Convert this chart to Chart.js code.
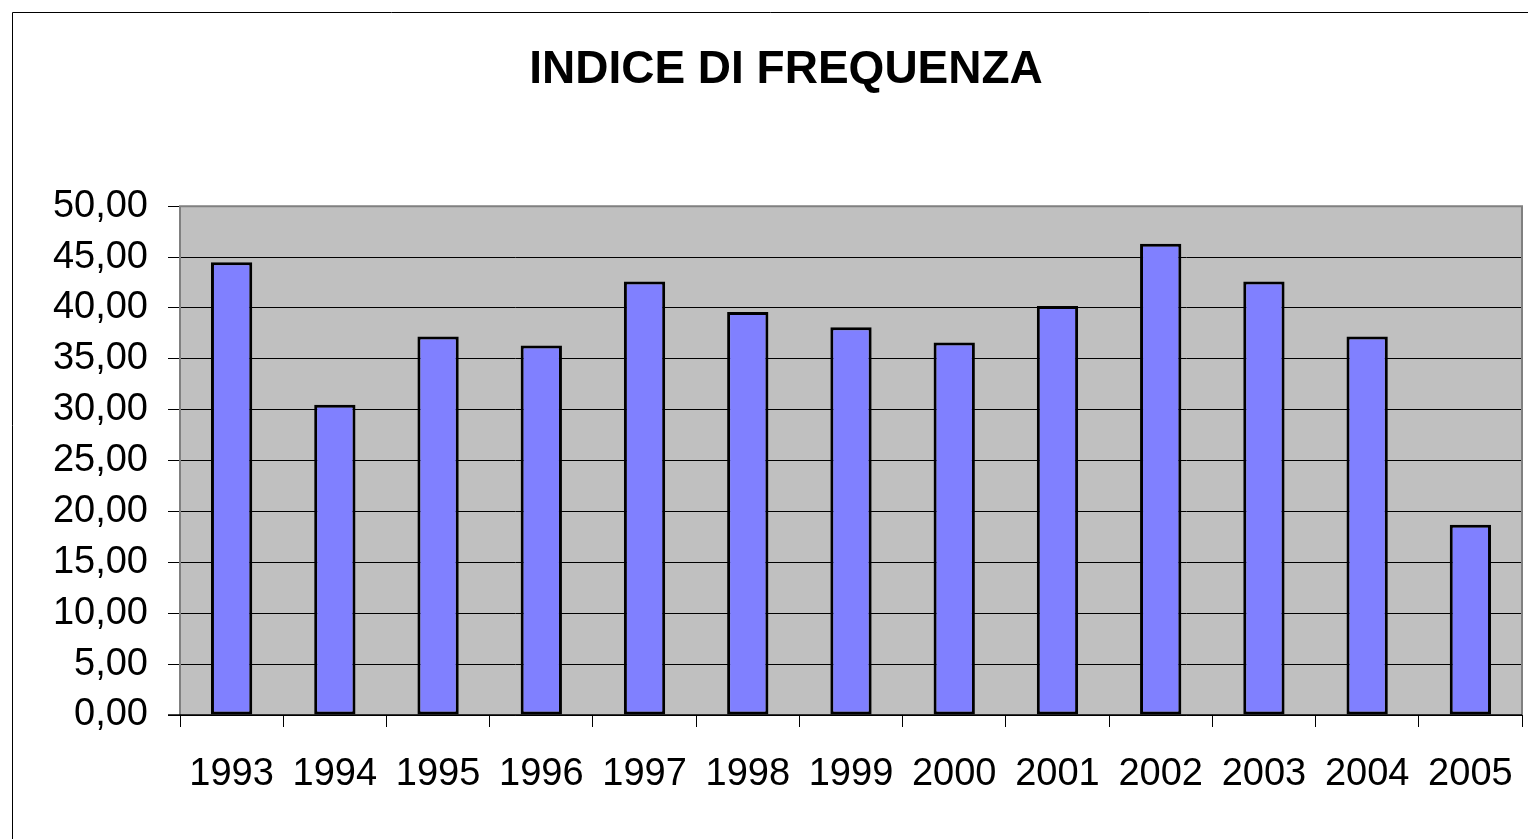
<!DOCTYPE html>
<html>
<head>
<meta charset="utf-8">
<script src="https://cdn.jsdelivr.net/npm/chart.js@4.4.1/dist/chart.umd.min.js"></script>
<style>
html,body{margin:0;padding:0;background:#fff;}
#wrap{width:1528px;height:839px;position:relative;}
</style>
</head>
<body>
<div id="wrap"><canvas id="c" width="1528" height="839"></canvas></div>
<script>
const chartTitle = 'INDICE DI FREQUENZA';
const years = ['1993','1994','1995','1996','1997','1998','1999','2000','2001','2002','2003','2004','2005'];
const indiceFrequenza = [44.5, 30.5, 37.2, 36.3, 42.6, 39.6, 38.1, 36.6, 40.2, 46.3, 42.6, 37.2, 18.7];
const yTickLabels = ['0,00','5,00','10,00','15,00','20,00','25,00','30,00','35,00','40,00','45,00','50,00'];

const FONT = 'Arial, "Liberation Sans", sans-serif';

const decor = {
  id: 'decor',
  beforeDraw(chart) {
    const {ctx, chartArea: a} = chart;
    ctx.save();
    ctx.fillStyle = '#fff';
    ctx.fillRect(0, 0, chart.width, chart.height);
    ctx.fillStyle = '#C0C0C0';
    ctx.fillRect(a.left, a.top, a.right - a.left, a.bottom - a.top);
    ctx.strokeStyle = '#000';
    ctx.lineWidth = 1;
    ctx.beginPath();
    ctx.moveTo(12.5, chart.height);
    ctx.lineTo(12.5, 12.5);
    ctx.lineTo(chart.width, 12.5);
    ctx.stroke();
    ctx.restore();
  },
  afterDatasetsDraw(chart) {
    const {ctx, chartArea: a} = chart;
    ctx.save();
    ctx.strokeStyle = '#808080';
    ctx.lineWidth = 2;
    ctx.beginPath();
    ctx.moveTo(a.left, a.bottom);
    ctx.lineTo(a.left, a.top);
    ctx.lineTo(a.right, a.top);
    ctx.lineTo(a.right, a.bottom);
    ctx.stroke();
    ctx.strokeStyle = '#000';
    ctx.lineWidth = 1.5;
    ctx.beginPath();
    ctx.moveTo(a.left - 12, a.bottom);
    ctx.lineTo(a.right, a.bottom);
    ctx.stroke();
    ctx.restore();
  }
};

new Chart(document.getElementById('c'), {
  type: 'bar',
  data: {
    labels: years,
    datasets: [{
      data: indiceFrequenza,
      backgroundColor: '#8080FF',
      borderColor: '#000',
      borderWidth: 3,
      borderSkipped: false,
      categoryPercentage: 1,
      barPercentage: 0.4
    }]
  },
  options: {
    responsive: false,
    animation: false,
    devicePixelRatio: 1,
    layout: { padding: { left: 50, right: 6, top: 0, bottom: 0 } },
    plugins: {
      legend: { display: false },
      tooltip: { enabled: false },
      title: {
        display: true,
        text: chartTitle,
        color: '#000',
        font: { family: FONT, size: 46, weight: 'bold' },
        padding: { top: 43, bottom: 108 }
      }
    },
    scales: {
      x: {
        offset: true,
        afterFit(s) { s.height = 124; s.paddingLeft = 0; s.paddingRight = 0; },
        grid: {
          offset: true,
          drawOnChartArea: false,
          drawTicks: true,
          tickLength: 12,
          color: '#000',
          tickColor: '#000',
          tickWidth: 1
        },
        border: { display: false },
        ticks: {
          color: '#000',
          font: { family: FONT, size: 38 },
          padding: 25,
          maxRotation: 0,
          autoSkip: false
        }
      },
      y: {
        min: 0,
        max: 50,
        afterFit(s) { s.width = 130; s.paddingTop = 0; s.paddingBottom = 0; },
        grid: {
          color: '#000',
          lineWidth: 1,
          tickLength: 12,
          tickColor: '#000'
        },
        border: { display: false },
        ticks: {
          stepSize: 5,
          color: '#000',
          font: { family: FONT, size: 38 },
          padding: 20,
          callback: (v, i) => yTickLabels[i]
        }
      }
    }
  },
  plugins: [decor]
});
</script>
</body>
</html>
